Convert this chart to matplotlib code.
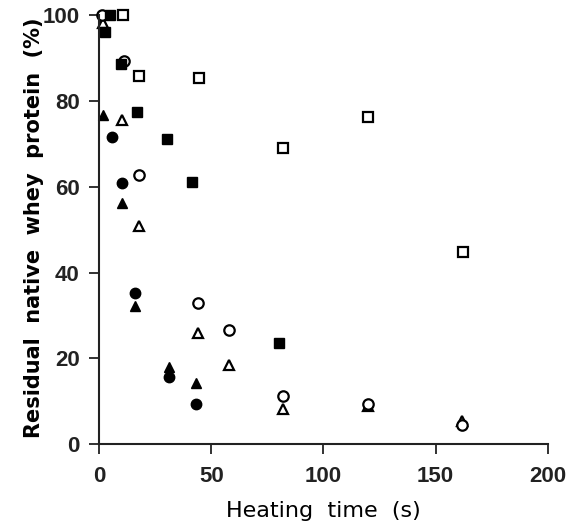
import matplotlib
matplotlib.use("Agg")
import matplotlib.pyplot as plt

plt.rcParams['font.family'] = ['Liberation Sans', 'DejaVu Sans']

# heating time (s) and residual native whey protein (%) per series
t_filled_circle = [5.8, 10.2, 16.0, 31.2, 43.2]
y_filled_circle = [71.5, 60.8, 35.2, 15.6, 9.4]

t_open_circle = [1.3, 11.0, 17.8, 44.1, 57.9, 82.0, 119.8, 161.7]
y_open_circle = [100.0, 89.3, 62.7, 33.0, 26.6, 11.2, 9.3, 4.4]

t_filled_tri = [1.8, 10.2, 16.0, 31.2, 43.2]
y_filled_tri = [76.7, 56.2, 32.2, 18.0, 14.2]

t_open_tri = [1.8, 10.2, 17.8, 44.1, 57.9, 82.0, 119.8, 161.7]
y_open_tri = [98.3, 75.6, 50.9, 26.0, 18.4, 8.3, 9.0, 5.3]

t_filled_sq = [4.9, 2.7, 9.8, 16.9, 30.3, 41.4, 80.2]
y_filled_sq = [100.0, 96.2, 88.6, 77.4, 71.1, 61.2, 23.6]

t_open_sq = [10.7, 17.8, 44.5, 82.0, 119.8, 162.1]
y_open_sq = [100.0, 85.8, 85.3, 69.1, 76.2, 44.7]

fig = plt.figure(figsize=(5.73, 5.25), dpi=100)
ax = fig.add_axes([0.173, 0.154, 0.783, 0.817])

ms = 7.5
kw = dict(linestyle='none', clip_on=False, markersize=ms)
ax.plot(t_open_tri, y_open_tri, marker='^', mfc='white', mec='black', mew=1.6, **kw)
ax.plot(t_open_circle, y_open_circle, marker='o', mfc='white', mec='black', mew=1.6, **kw)
ax.plot(t_open_sq, y_open_sq, marker='s', mfc='white', mec='black', mew=1.6, **kw)
ax.plot(t_filled_circle, y_filled_circle, marker='o', color='black', **kw)
ax.plot(t_filled_tri, y_filled_tri, marker='^', color='black', **kw)
ax.plot(t_filled_sq, y_filled_sq, marker='s', color='black', **kw)

ax.set_xlim(0, 200)
ax.set_ylim(0, 100)
ax.set_xticks([0, 50, 100, 150, 200])
ax.set_yticks([0, 20, 40, 60, 80, 100])

for s in ['top', 'right']:
    ax.spines[s].set_visible(False)
for s in ['left', 'bottom']:
    ax.spines[s].set_linewidth(1.5)
    ax.spines[s].set_color('#222222')

ax.tick_params(direction='out', length=7, width=1.3, labelsize=16, colors='#222222')
ax.tick_params(axis='x', pad=9)
ax.tick_params(axis='y', pad=7)
for lab in ax.get_xticklabels() + ax.get_yticklabels():
    lab.set_fontweight('bold')

ax.set_xlabel('Heating  time  (s)', fontsize=16, family=['DejaVu Sans'], labelpad=10)
ax.set_ylabel('Residual  native  whey  protein  (%)', fontsize=15,
              fontweight='bold', family=['DejaVu Sans'])
ax.yaxis.set_label_coords(-0.123, 0.505)

fig.savefig('out.png', dpi=100)
